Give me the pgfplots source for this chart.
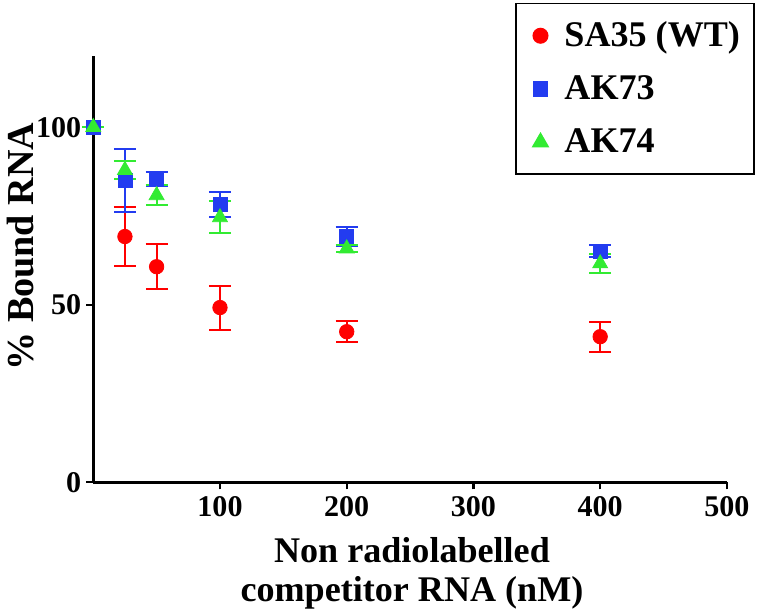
\documentclass[border=0pt]{standalone}
\usepackage{pgfplots}
\pgfplotsset{compat=1.18}
\usepackage{pgfplotstable}
\usepackage{fontspec}
\setmainfont{Liberation Serif}
\definecolor{cred}{RGB}{255,0,0}
\definecolor{cblue}{RGB}{35,60,240}
\definecolor{cgreen}{RGB}{50,235,50}

\pgfplotstableread{
x y e
25 69.2 8.2
50 60.7 6.4
100 49.2 6.2
200 42.4 3.0
400 41.0 4.2
}\sa
\pgfplotstableread{
x y e
0 100 0
25 85.0 8.9
50 85.3 2.0
100 78.2 3.6
200 69.2 2.8
400 65.0 1.7
}\aks
\pgfplotstableread{
x y e
0 100 0
25 87.9 2.5
50 80.8 2.8
100 74.6 4.5
200 65.8 1.0
400 61.6 2.6
}\akt

\begin{document}
\begin{tikzpicture}
\begin{axis}[
  scale only axis,
  width=316pt, height=212.5pt,
  xmin=0, xmax=500, ymin=0, ymax=120,
  axis x line=bottom, axis y line=left,
  axis line style={-, line width=1.5pt},
  xtick={100,200,300,400,500},
  ytick={0,50,100},
  tick style={line width=1.2pt, black},
  tick align=outside,
  major tick length=3.5pt,
  /pgf/number format/assume math mode=true,
  tick label style={font=\bfseries\fontsize{15}{15}\selectfont},
  xticklabel style={yshift=0pt},
  yticklabel style={xshift=1pt},
  xlabel={Non radiolabelled\\competitor RNA (nM)},
  xlabel style={font=\bfseries\fontsize{18}{19.5}\selectfont, align=center,
    at={(axis description cs:0.503,-0.214)}, anchor=center},
  ylabel={\% Bound RNA},
  ylabel style={font=\bfseries\fontsize{19}{19}\selectfont,
    at={(axis description cs:-0.1155,0.553)}, anchor=center},
  clip=false,
  legend style={at={(1.044,1.125)}, anchor=north east, draw=black, line width=0.8pt,
    font=\bfseries\fontsize{18}{18}\selectfont, row sep=9pt, inner xsep=5pt, inner ysep=7pt,
    cells={anchor=west}},
  legend image code/.code={\path[draw=none, fill=none] (0,0) rectangle (0.6cm,0cm); \draw[#1] plot[only marks] coordinates {(0.25cm,0cm)};},
  error bars/error bar style={line width=1pt},
  error bars/error mark options={rotate=90, mark size=5.5pt, line width=1pt},
]
\addplot[only marks, mark=*, mark size=3.6pt, color=cred, mark options={fill=cred, draw=cred},
  error bars/.cd, y dir=both, y explicit]
  table[x=x, y=y, y error=e]{\sa};
\addlegendentry{SA35 (WT)}
\addplot[only marks, mark=square*, mark size=3.5pt, color=cblue, mark options={fill=cblue, draw=cblue},
  error bars/.cd, y dir=both, y explicit]
  table[x=x, y=y, y error=e]{\aks};
\addlegendentry{AK73}
\addplot[only marks, mark=triangle*, mark size=4.3pt, color=cgreen, mark options={fill=cgreen, draw=cgreen},
  error bars/.cd, y dir=both, y explicit]
  table[x=x, y=y, y error=e]{\akt};
\addlegendentry{AK74}
\end{axis}
\pgfresetboundingbox
\path ([xshift=-46.5pt,yshift=-63.5pt]current axis.south west) rectangle ([xshift=16pt,yshift=28pt]current axis.north east);
\end{tikzpicture}
\end{document}
